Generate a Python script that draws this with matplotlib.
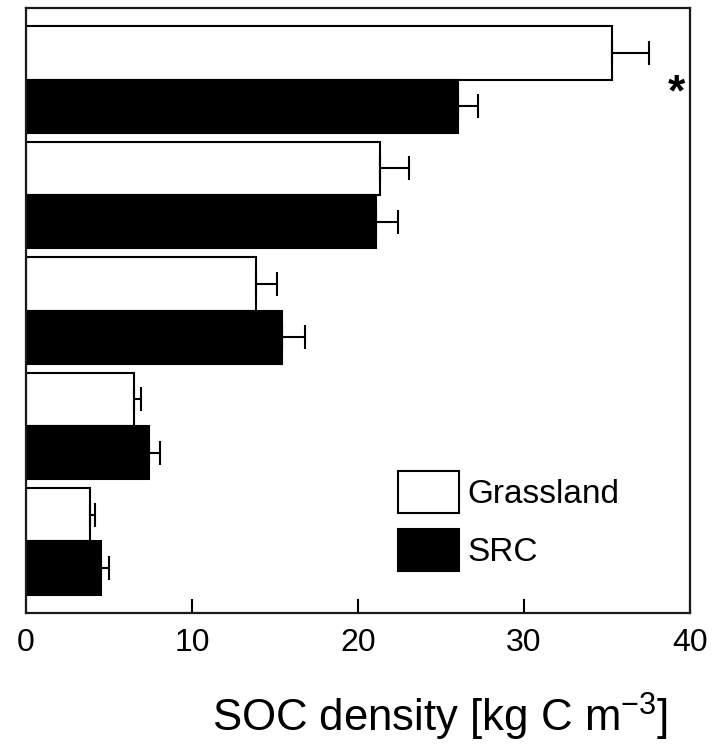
import matplotlib
matplotlib.use("Agg")
import matplotlib.pyplot as plt
import numpy as np

plt.rcParams['font.family'] = ['Liberation Sans', 'DejaVu Sans']
plt.rcParams['mathtext.fontset'] = 'custom'
plt.rcParams['mathtext.rm'] = 'Liberation Sans'
plt.rcParams['mathtext.it'] = 'Liberation Sans:italic'
plt.rcParams['mathtext.bf'] = 'Liberation Sans:bold'

# Data (groups from top to bottom)
groups = ["1", "2", "3", "4", "5"]
grassland = [35.3, 21.3, 13.85, 6.5, 3.85]
grassland_err = [2.2, 1.8, 1.25, 0.45, 0.3]
src = [26.0, 21.1, 15.4, 7.4, 4.5]
src_err = [1.2, 1.3, 1.4, 0.7, 0.5]
xticks = [0, 10, 20, 30, 40]

fig = plt.figure(figsize=(7.13, 7.46), dpi=100)
ax = fig.add_axes([26/713, 1 - 613/746, (690-26)/713, (613-8)/746])

y = np.arange(len(groups))
h = 0.46
lw = 1.5

ax.barh(y - h/2, grassland, height=h, color='white', edgecolor='black',
        linewidth=lw, label='Grassland', zorder=2)
ax.barh(y + h/2, src, height=h, color='black', edgecolor='black',
        linewidth=lw, label='SRC', zorder=2)
ax.errorbar(grassland, y - h/2, xerr=[np.zeros(len(groups)), grassland_err],
            fmt='none', ecolor='black', elinewidth=lw, capsize=8.5, capthick=lw, zorder=3)
ax.errorbar(src, y + h/2, xerr=[np.zeros(len(groups)), src_err],
            fmt='none', ecolor='black', elinewidth=lw, capsize=8.5, capthick=lw, zorder=3)

ax.text(39.2, 0.12, '*', fontsize=32, fontweight='bold', ha='center', va='center')

ax.set_xlim(0, 40)
ax.set_ylim(4.62, -0.62)
ax.set_xticks(xticks)
ax.set_yticks([])
ax.tick_params(axis='x', direction='in', length=10, width=1.5, labelsize=23, pad=11)
for s in ax.spines.values():
    s.set_linewidth(1.6)
    s.set_color('#1a1a1a')

ax.set_xlabel('SOC density [kg C m$^{\\mathrm{-3}}$]', fontsize=31.5)
ax.xaxis.label.set_va('center')
ax.xaxis.set_label_coords((440-26)/664, (613-717)/605)

ax.legend(loc='upper left', bbox_to_anchor=((398-26)/664, (613-471)/605),
          frameon=False, fontsize=24, handlelength=1.83, handleheight=1.56,
          labelspacing=0.48, handletextpad=0.24, borderpad=0, borderaxespad=0)

fig.savefig('out.png', dpi=100)
